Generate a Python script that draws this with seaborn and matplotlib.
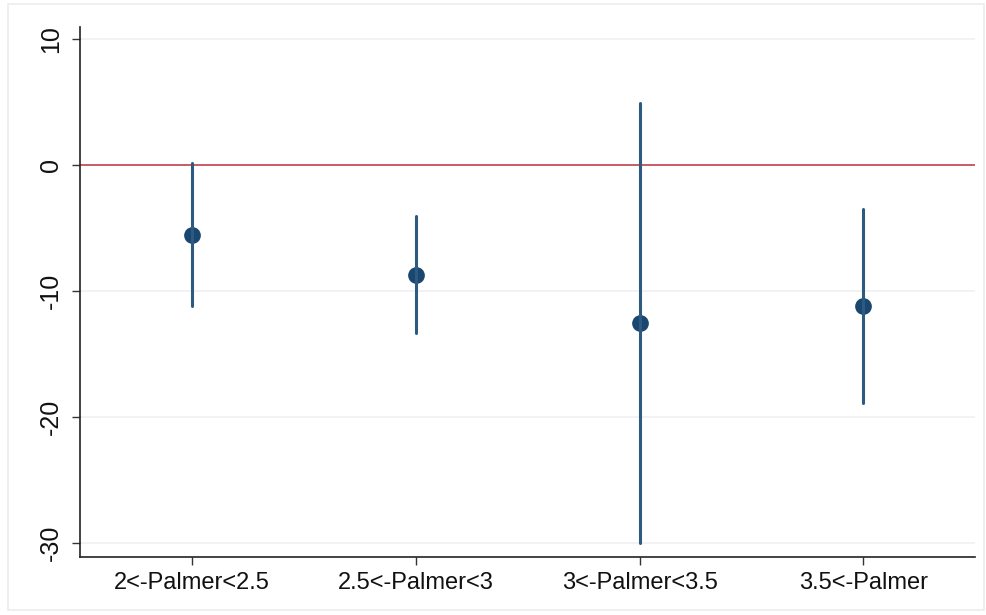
import matplotlib
matplotlib.use("Agg")
import matplotlib.pyplot as plt
import pandas as pd
import seaborn as sns
from matplotlib.patches import Rectangle

# ── Data ──────────────────────────────────────────────────────────────────────
CATEGORIES = ["2<-Palmer<2.5", "2.5<-Palmer<3", "3<-Palmer<3.5", "3.5<-Palmer"]
ESTIMATE   = [-5.55, -8.7, -12.5, -11.2]
CI_LOW     = [-11.2, -13.3, -30.0, -18.9]
CI_HIGH    = [0.15, -4.05, 4.95, -3.5]
Y_TICKS    = [10, 0, -10, -20, -30]

NAVY = "#1a476f"
RED  = "#c8505a"
GRID = "#edf1f2"

# long form: low / estimate / high per category, median = estimate, range = CI
rows = []
for cat, lo, est, hi in zip(CATEGORIES, CI_LOW, ESTIMATE, CI_HIGH):
    for v in (lo, est, hi):
        rows.append({"group": cat, "coef": v})
df = pd.DataFrame(rows)

sns.set_theme(style="white")
plt.rcParams["font.family"] = ["Liberation Sans", "DejaVu Sans"]

fig = plt.figure(figsize=(9.86, 6.15), dpi=100)
ax = fig.add_axes([0.0811, 0.0943, 0.908, 0.862])

# faint outer frame of the graph region
fig.patches.append(Rectangle((0.008, 0.008), 0.99, 0.985, transform=fig.transFigure,
                             fill=False, edgecolor="#ececec", linewidth=1.2))

for t in Y_TICKS:
    ax.axhline(t, color=GRID, linewidth=1.2, zorder=0)
ax.axhline(0, color=RED, linewidth=1.3, zorder=1)

sns.pointplot(
    data=df, x="group", y="coef", order=CATEGORIES,
    estimator="median", errorbar=("pi", 100),
    color=NAVY, linestyle="none", markers="o", markersize=10,
    err_kws={"linewidth": 2.2, "color": "#2e5a82"},
    ax=ax, zorder=3,
)

ax.set_xlim(-0.5, 3.5)
ax.set_ylim(-31.1, 10.95)
ax.set_yticks(Y_TICKS)
ax.set_yticklabels([str(t) for t in Y_TICKS], rotation=90, va="center")
ax.set_xlabel("")
ax.set_ylabel("")

for s in ("top", "right"):
    ax.spines[s].set_visible(False)
for s in ("left", "bottom"):
    ax.spines[s].set_color("#222222")
    ax.spines[s].set_linewidth(1.2)

ax.tick_params(axis="both", which="major", direction="out", length=6, width=1,
               color="#333333", labelcolor="#111111", pad=5)
ax.tick_params(axis="x", bottom=True, labelsize=17)
ax.tick_params(axis="y", left=True, labelsize=18, pad=6)

fig.savefig("out.png", dpi=100)
